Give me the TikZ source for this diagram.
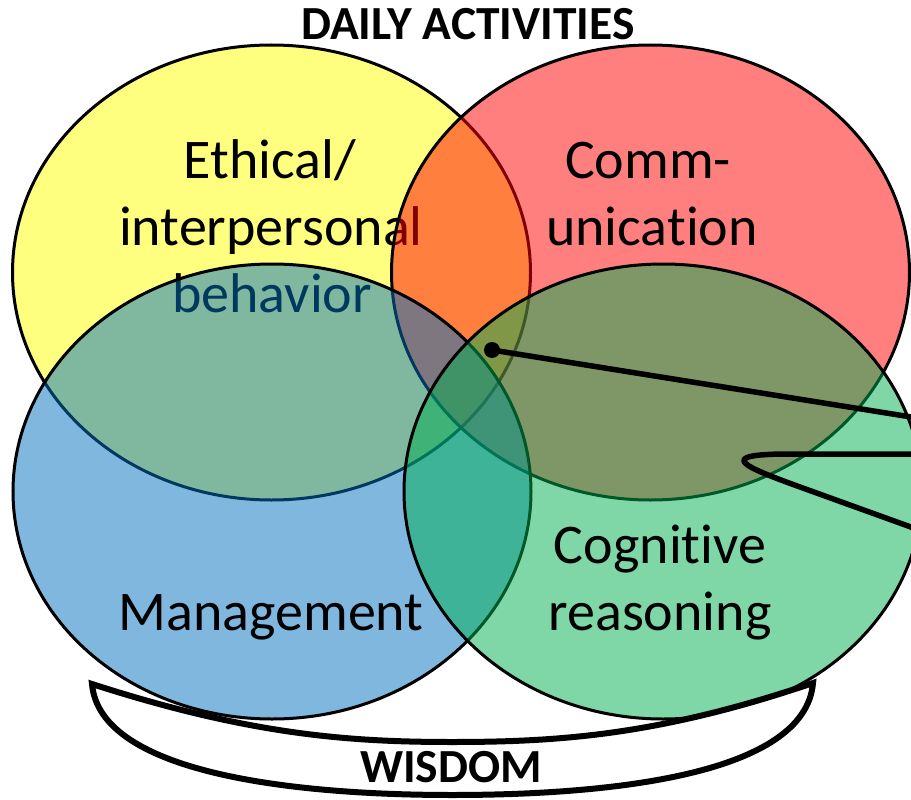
\documentclass[tikz,border=0pt]{standalone}
\usepackage{fontspec}
\setmainfont{Carlito}[RawFeature={-liga;-clig;-dlig}]
\definecolor{vyellow}{RGB}{255,255,0}
\definecolor{vred}{RGB}{255,0,0}
\definecolor{vblue}{RGB}{0,112,192}
\definecolor{vgreen}{RGB}{0,176,80}
\begin{document}
\begin{tikzpicture}[x=1pt,y=-1pt,
  venn/.style={draw=black, line width=3pt, fill opacity=0.5},
  lbl/.style={font=\fontsize{56}{67}\selectfont, anchor=base, inner sep=0pt},
  ttl/.style={font=\bfseries\fontsize{47.5}{55}\selectfont, anchor=base, inner sep=0pt},
  conn/.style={line width=5.5pt, line cap=round, line join=round},
  brace/.style={draw=black, line width=6pt, fill=white, line join=miter}]
\useasboundingbox (0,0) rectangle (911,800);
\clip (0,0) rectangle (911,800);
\fill[white] (0,0) rectangle (911,800);
% yellow
\filldraw[venn, fill=vyellow] (271.5,272.5) ellipse [x radius=259, y radius=227.5];
\node[lbl] (eth1) at (270,178) {Ethical/};
\node[lbl] (eth2) at (271,245) {interpersonal};
\node[lbl] (eth3) at (272,312) {behavior};
% red
\filldraw[venn, fill=vred] (650.5,272.5) ellipse [x radius=259, y radius=227.5];
\node[lbl] (com1) at (648,178) {Comm-};
\node[lbl] (com2) at (652,245) {unication};
% blue
\filldraw[venn, fill=vblue] (272,491.5) ellipse [x radius=259, y radius=227.5];
\node[lbl] (man) at (271,630) {Management};
% green
\filldraw[venn, fill=vgreen] (663,491.5) ellipse [x radius=259, y radius=227.5];
\node[lbl] (cog1) at (660,563) {Cognitive};
\node[lbl] (cog2) at (660,630) {reasoning};
% connectors
\coordinate (dot) at (492,350);
\coordinate (out1) at (915,417.6);
\coordinate (lasA) at (915,454);
\coordinate (lasB) at (915,528.5);
\fill (dot) circle [radius=8];
\draw[conn] (dot) -- (out1);
\draw[conn] (lasA) -- (790,454) .. controls (712,454) and (745,467) .. (800,487) -- (lasB);
% wisdom bracket
\draw[brace] (92,684) .. controls (250,735) and (350,742) .. (452,742)
  .. controls (560,742) and (660,735) .. (813,683)
  .. controls (805,775) and (610,795) .. (452,795)
  .. controls (300,795) and (100,775) .. cycle;
\node[ttl] (wis) at (451,782) {WISDOM};
\node[ttl] (daily) at (468,40) {DAILY ACTIVITIES};
\end{tikzpicture}
\end{document}
